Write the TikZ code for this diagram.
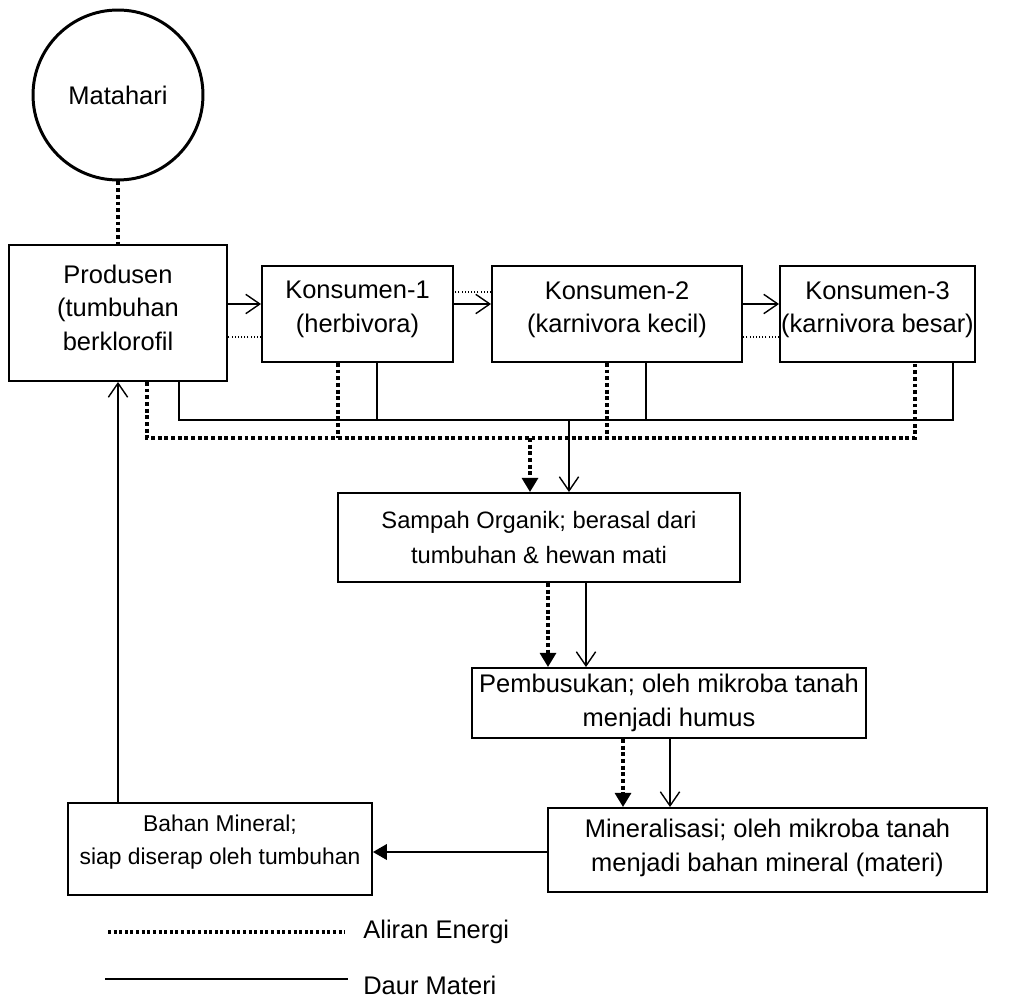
\documentclass[tikz,border=0pt]{standalone}
\usepackage{fontspec}
\setmainfont{Liberation Sans}
\usetikzlibrary{arrows.meta}

\begin{document}
\begin{tikzpicture}[x=0.02cm,y=-0.02cm,font=\fontsize{14.5}{19.2}\selectfont,
box/.style={draw, line width=1.1pt, inner sep=0pt, align=center},
kecil/.style={font=\fontsize{13}{18.8}\selectfont},
mat/.style={line width=0.8pt},
energi/.style={line width=1.9pt, dash pattern=on 2.2pt off 1.6pt},
tipis/.style={line width=0.6pt, dash pattern=on 0.6pt off 1.2pt},
buka/.style={-{Straight Barb[length=8pt,width=11pt,line width=0.8pt]}},
penuh/.style={-{Triangle[length=8pt,width=9pt]}}]
\useasboundingbox (0,0) rectangle (1021,1000);
\node[circle, draw, line width=1.7pt, minimum size=3.4cm, inner sep=0pt] (matahari) at (118,95) {Matahari};
\node[box, minimum width=4.36cm, minimum height=2.72cm, text depth=6pt] (produsen) at (118,313) {Produsen\\(tumbuhan\\berklorofil};
\node[box, minimum width=3.82cm, minimum height=1.92cm, text depth=8pt] (kons1) at (357.5,314) {Konsumen-1\\(herbivora)};
\node[box, minimum width=5cm, minimum height=1.92cm, text depth=8pt] (kons2) at (617,314) {Konsumen-2\\(karnivora kecil)};
\node[box, minimum width=3.9cm, minimum height=1.92cm, text depth=8pt] (kons3) at (877.5,314) {Konsumen-3\\(karnivora besar)};
\node[box, font=\fontsize{13.5}{19.5}\selectfont, minimum width=8.04cm, minimum height=1.78cm] (sampah) at (539,537.5) {Sampah Organik; berasal dari\\tumbuhan \& hewan mati};
\node[box, minimum width=7.88cm, minimum height=1.4cm] (busuk) at (669,703) {Pembusukan; oleh mikroba tanah\\menjadi humus};
\node[box, minimum width=8.78cm, minimum height=1.68cm, text depth=5pt] (mineralisasi) at (767.5,850) {Mineralisasi; oleh mikroba tanah\\menjadi bahan mineral (materi)};
\node[box, kecil, minimum width=6.08cm, minimum height=1.84cm, text depth=11pt] (bahan) at (220,849) {Bahan Mineral;\\siap diserap oleh tumbuhan};
\draw[energi] (matahari) -- (produsen);
\draw[mat, buka] (produsen.east |- 0,304) -- (kons1.west |- 0,304);
\draw[mat, buka] (kons1.east |- 0,304) -- (kons2.west |- 0,304);
\draw[mat, buka] (kons2.east |- 0,304) -- (kons3.west |- 0,304);
\draw[tipis] (kons1.west |- 0,337) -- (produsen.east |- 0,337);
\draw[tipis] (kons2.west |- 0,292) -- (kons1.east |- 0,292);
\draw[tipis] (kons3.west |- 0,337) -- (kons2.east |- 0,337);
\draw[mat] (produsen.south -| 179,0) |- (953,420) -- (kons3.south -| 953,0);
\draw[mat] (kons1.south -| 377,0) -- (377,420);
\draw[mat] (kons2.south -| 646,0) -- (646,420);
\draw[mat, buka] (569,420) -- (sampah.north -| 569,0);
\draw[energi] (produsen.south -| 147,0) |- (915,438) -- (kons3.south -| 915,0);
\draw[energi] (kons1.south -| 338,0) -- (338,438);
\draw[energi] (kons2.south -| 607,0) -- (607,438);
\draw[energi, penuh] (530,438) -- (sampah.north -| 530,0);
\draw[energi, penuh] (sampah.south -| 548,0) -- (busuk.north -| 548,0);
\draw[mat, buka] (sampah.south -| 586,0) -- (busuk.north -| 586,0);
\draw[energi, penuh] (busuk.south -| 623,0) -- (mineralisasi.north -| 623,0);
\draw[mat, buka] (busuk.south -| 670,0) -- (mineralisasi.north -| 670,0);
\draw[mat, penuh] (mineralisasi.west |- 0,852) -- (bahan.east |- 0,852);
\draw[mat, buka] (bahan.north -| produsen.south) -- (produsen.south);
\node[anchor=west, inner sep=0pt] (legenda1) at (363,932) {Aliran Energi};
\node[anchor=west, inner sep=0pt] (legenda2) at (363,985) {Daur Materi};
\draw[line width=2pt, dash pattern=on 1.7pt off 1.5pt] (108,932) -- (345,932);
\draw[mat] (105,979) -- (348,979);
\end{tikzpicture}
\end{document}
